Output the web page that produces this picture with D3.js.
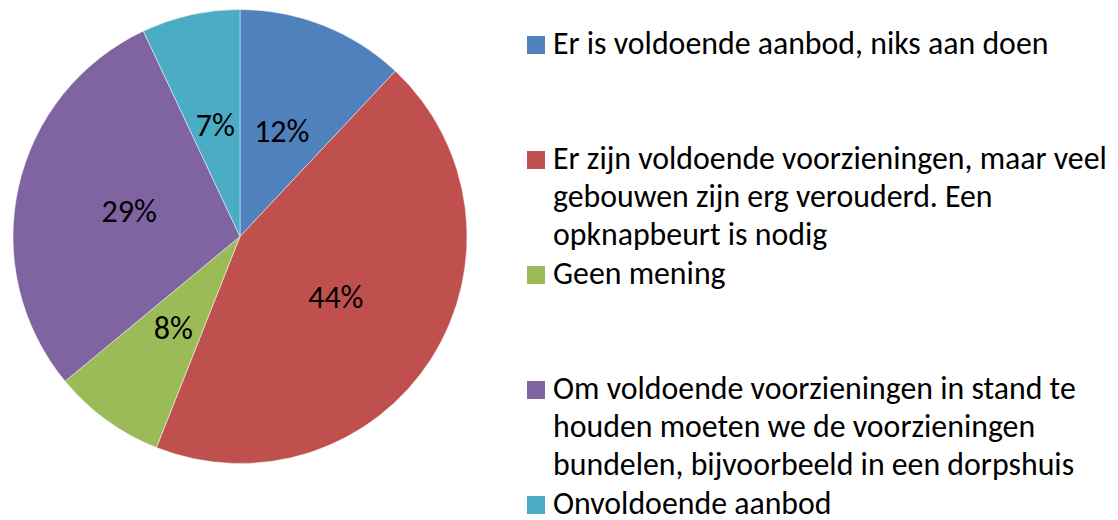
<!DOCTYPE html>
<html>
<head>
<meta charset="utf-8">
<script src="https://cdn.jsdelivr.net/npm/d3@7"></script>
<style>
  html, body { margin: 0; padding: 0; background: #fff; }
  svg { display: block; }
</style>
</head>
<body>
<svg id="chart" width="1118" height="520"></svg>
<script>
// Survey answers, in drawing order (clockwise from 12 o'clock)
const categories = [
  "Er is voldoende aanbod, niks aan doen",
  "Er zijn voldoende voorzieningen, maar veel gebouwen zijn erg verouderd. Een opknapbeurt is nodig",
  "Geen mening",
  "Om voldoende voorzieningen in stand te houden moeten we de voorzieningen bundelen, bijvoorbeeld in een dorpshuis",
  "Onvoldoende aanbod"
];
const values = [12, 44, 8, 29, 7];
// Legend text broken into lines as laid out beside the pie
const legendLines = [
  ["Er is voldoende aanbod, niks aan doen"],
  ["Er zijn voldoende voorzieningen, maar veel", "gebouwen zijn erg verouderd. Een", "opknapbeurt is nodig"],
  ["Geen mening"],
  ["Om voldoende voorzieningen in stand te", "houden moeten we de voorzieningen", "bundelen, bijvoorbeeld in een dorpshuis"],
  ["Onvoldoende aanbod"]
];
const colors = ["#4F81BD", "#C0504D", "#9BBB59", "#8064A2", "#4BACC6"];

const FONT = "Carlito, Calibri, 'Open Sans', 'Noto Sans', sans-serif";
const svg = d3.select("#chart");

const cx = 240, cy = 236.5, r = 227;
const color = d3.scaleOrdinal().domain(categories).range(colors);

const pie = d3.pie().sort(null).value(d => d.value);
const arc = d3.arc().innerRadius(0).outerRadius(r);

const data = categories.map((c, i) => ({ name: c, value: values[i] }));
const arcs = pie(data);

const g = svg.append("g").attr("transform", `translate(${cx},${cy})`);

g.selectAll("path.slice")
  .data(arcs)
  .join("path")
  .attr("class", "slice")
  .attr("d", arc)
  .attr("fill", d => color(d.data.name))
  .attr("stroke", "#fff")
  .attr("stroke-width", 0.8)
  .attr("stroke-opacity", 0.6);

g.selectAll("text.pct")
  .data(arcs)
  .join("text")
  .attr("class", "pct")
  .attr("transform", d => `translate(${arc.centroid(d)})`)
  .attr("text-anchor", "middle")
  .attr("dy", "0.33em")
  .attr("font-family", FONT)
  .attr("font-size", 32)
  .attr("fill", "#000")
  .text(d => d3.format(".0%")(d.data.value / 100));

// Legend: one equal-height slot per entry
const legX = 527, textX = 553, firstBase = 54, slot = 115, lineH = 38, sw = 18;
const leg = svg.append("g");

// Fit font size so the widest legend line spans the legend column
const targetWidth = 554;
const probe = leg.append("text").attr("font-family", FONT).attr("font-size", 100)
  .text(legendLines[1][0]);
const probeW = probe.node().getComputedTextLength();
probe.remove();
const legendSize = 100 * targetWidth / probeW;

legendLines.forEach((lines, i) => {
  const base = firstBase + i * slot;
  leg.append("rect")
    .attr("x", legX).attr("y", base - sw)
    .attr("width", sw).attr("height", sw)
    .attr("fill", colors[i]);
  const t = leg.append("text")
    .attr("font-family", FONT)
    .attr("font-size", legendSize)
    .attr("fill", "#000");
  lines.forEach((ln, j) => {
    t.append("tspan").attr("x", textX).attr("y", base + j * lineH).text(ln);
  });
});
</script>
</body>
</html>
